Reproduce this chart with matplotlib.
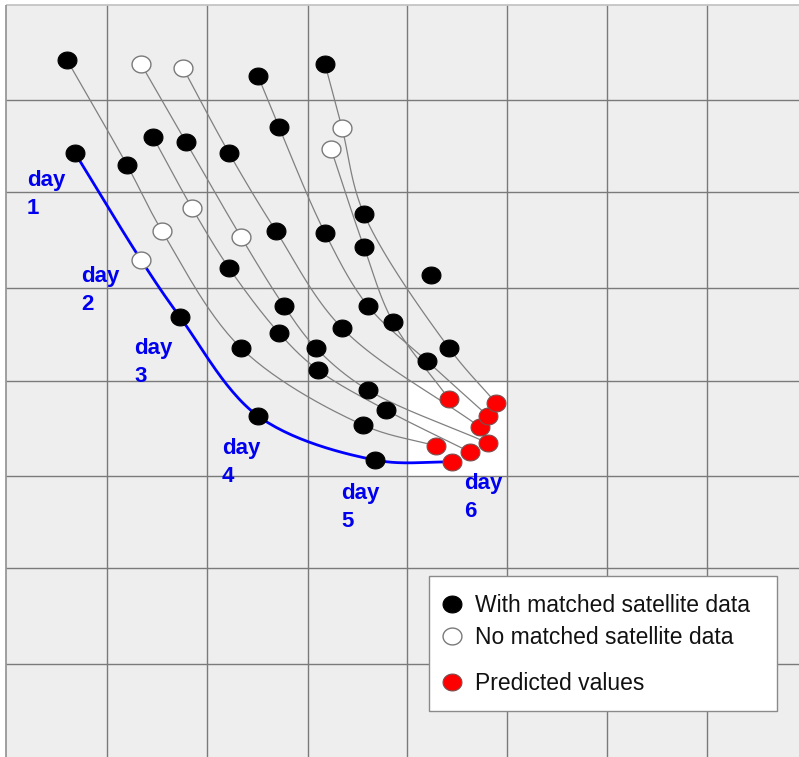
import numpy as np
import matplotlib
matplotlib.use("Agg")
import matplotlib.pyplot as plt
from matplotlib.patches import Rectangle
from matplotlib.path import Path

# ---------------- data (schematic coordinates, x right / y down) ----------------
track_a_x = [67, 127, 162, 241, 363, 436]
track_a_y = [60, 165, 231, 348, 425, 446]
track_a_s = "bbwbbr"

blue_x = [75, 141, 180, 258, 375, 452]
blue_y = [153, 260, 317, 416, 460, 462]
blue_s = "bwbbbr"

track_c_x = [141, 186, 241, 284, 316, 368, 488]
track_c_y = [64, 142, 237, 306, 348, 390, 443]
track_c_s = "wbwbbbr"

track_d_x = [183, 229, 276, 342, 480]
track_d_y = [68, 153, 231, 328, 427]
track_d_s = "wbbbr"

track_e_x = [153, 192, 229, 279, 318, 386, 470]
track_e_y = [137, 208, 268, 333, 370, 410, 452]
track_e_s = "bwbbbbr"

track_f_x = [258, 279, 325, 368, 427, 488]
track_f_y = [76, 127, 233, 306, 361, 416]
track_f_s = "bbbbbr"

track_g_x = [325, 342, 364, 449, 496]
track_g_y = [64, 128, 214, 348, 403]
track_g_s = "bwbbr"

track_h_x = [331, 364, 393, 449]
track_h_y = [149, 247, 322, 399]
track_h_s = "wbbr"

lone_x = [431]
lone_y = [275]

day_labels = ["day\n1", "day\n2", "day\n3", "day\n4", "day\n5", "day\n6"]
legend_labels = ["With matched satellite data", "No matched satellite data", "Predicted values"]

# ---------------- helpers ----------------
def catmull_rom(xs, ys, n=30):
    P = np.column_stack([xs, ys]).astype(float)
    P = np.vstack([2 * P[0] - P[1], P, 2 * P[-1] - P[-2]])
    out = []
    for i in range(len(P) - 3):
        p0, p1, p2, p3 = P[i], P[i + 1], P[i + 2], P[i + 3]
        t0 = 0.0
        t1 = t0 + np.linalg.norm(p1 - p0) ** 0.5
        t2 = t1 + np.linalg.norm(p2 - p1) ** 0.5
        t3 = t2 + np.linalg.norm(p3 - p2) ** 0.5
        t = np.linspace(t1, t2, n)[:, None]
        a1 = (t1 - t) / (t1 - t0) * p0 + (t - t0) / (t1 - t0) * p1
        a2 = (t2 - t) / (t2 - t1) * p1 + (t - t1) / (t2 - t1) * p2
        a3 = (t3 - t) / (t3 - t2) * p2 + (t - t2) / (t3 - t2) * p3
        b1 = (t2 - t) / (t2 - t0) * a1 + (t - t0) / (t2 - t0) * a2
        b2 = (t3 - t) / (t3 - t1) * a2 + (t - t1) / (t3 - t1) * a3
        c = (t2 - t) / (t2 - t1) * b1 + (t - t1) / (t2 - t1) * b2
        out.append(c if i == 0 else c[1:])
    c = np.vstack(out)
    return c[:, 0], c[:, 1]

theta = np.linspace(0, 2 * np.pi, 60)
ell = Path(np.column_stack([1.12 * np.cos(theta), np.sin(theta)]))

styles = {
    "b": dict(mfc="black", mec="black", mew=0.8),
    "w": dict(mfc="white", mec="#7a7a7a", mew=1.0),
    "r": dict(mfc="#ff0000", mec="#7a5050", mew=0.8),
}
MS = 13.6

def draw_points(ax, xs, ys, ss):
    for x, y, s in zip(xs, ys, ss):
        ax.plot([x], [y], linestyle="none", marker=ell, ms=MS, zorder=5, **styles[s])

# ---------------- figure ----------------
fig = plt.figure(figsize=(7.99, 7.57), dpi=100)
ax = fig.add_axes([0, 0, 1, 1])
ax.set_xlim(0, 799)
ax.set_ylim(757, 0)
ax.axis("off")

ax.add_patch(Rectangle((6, 5), 793, 752, fc="#eeeeee", ec="none", zorder=0))
ax.add_patch(Rectangle((407, 381), 100, 95, fc="white", ec="none", zorder=0.5))

xgrid = [107, 207, 308, 407, 507, 607, 707]
ygrid = [100, 192, 288, 381, 476, 568, 664]
ax.vlines(xgrid, 5, 757, color="#7a7a7a", lw=1.0, zorder=1)
ax.hlines(ygrid, 6, 799, color="#7a7a7a", lw=1.0, zorder=1)
ax.hlines([5], 6, 799, color="#c0c0c0", lw=1.2, zorder=1)
ax.vlines([6], 5, 757, color="#909090", lw=1.2, zorder=1)

gray_tracks = [
    (track_a_x, track_a_y, track_a_s),
    (track_c_x, track_c_y, track_c_s),
    (track_d_x, track_d_y, track_d_s),
    (track_e_x, track_e_y, track_e_s),
    (track_f_x, track_f_y, track_f_s),
    (track_g_x, track_g_y, track_g_s),
    (track_h_x, track_h_y, track_h_s),
]
for xs, ys, ss in gray_tracks:
    cx, cy = catmull_rom(xs, ys)
    ax.plot(cx, cy, color="#808080", lw=0.9, zorder=2)

bx, by = catmull_rom(blue_x, blue_y)
ax.plot(bx, by, color="#0000ff", lw=2.0, zorder=3, solid_capstyle="round")

for xs, ys, ss in gray_tracks + [(blue_x, blue_y, blue_s)]:
    draw_points(ax, xs, ys, ss)
draw_points(ax, lone_x, lone_y, "b")

# day labels
day_x = [27, 81, 134, 222, 341, 464]
day_base = [186, 282, 354, 454, 499, 489]
for lab, x, yb in zip(day_labels, day_x, day_base):
    w1, w2 = lab.split("\n")
    ax.text(x, yb, w1, color="#0000ee", fontsize=16, fontweight="bold",
            family="Liberation Sans", ha="left", va="baseline", zorder=6)
    ax.text(x, yb + 28, w2, color="#0000ee", fontsize=16, fontweight="bold",
            family="Liberation Sans", ha="left", va="baseline", zorder=6)

# legend box
ax.add_patch(Rectangle((429, 576), 348, 135, fc="white", ec="#8a8a8a", lw=1.0, zorder=7))
leg_y = [605, 637, 683]
for lab, yy, s in zip(legend_labels, leg_y, "bwr"):
    ax.plot([452], [yy - 1], linestyle="none", marker=ell, ms=MS, zorder=8, **styles[s])
    ax.text(475, yy, lab, fontsize=16.5, family="Liberation Sans", color="#111111",
            ha="left", va="center", zorder=8)

fig.savefig("out.png", dpi=100)
